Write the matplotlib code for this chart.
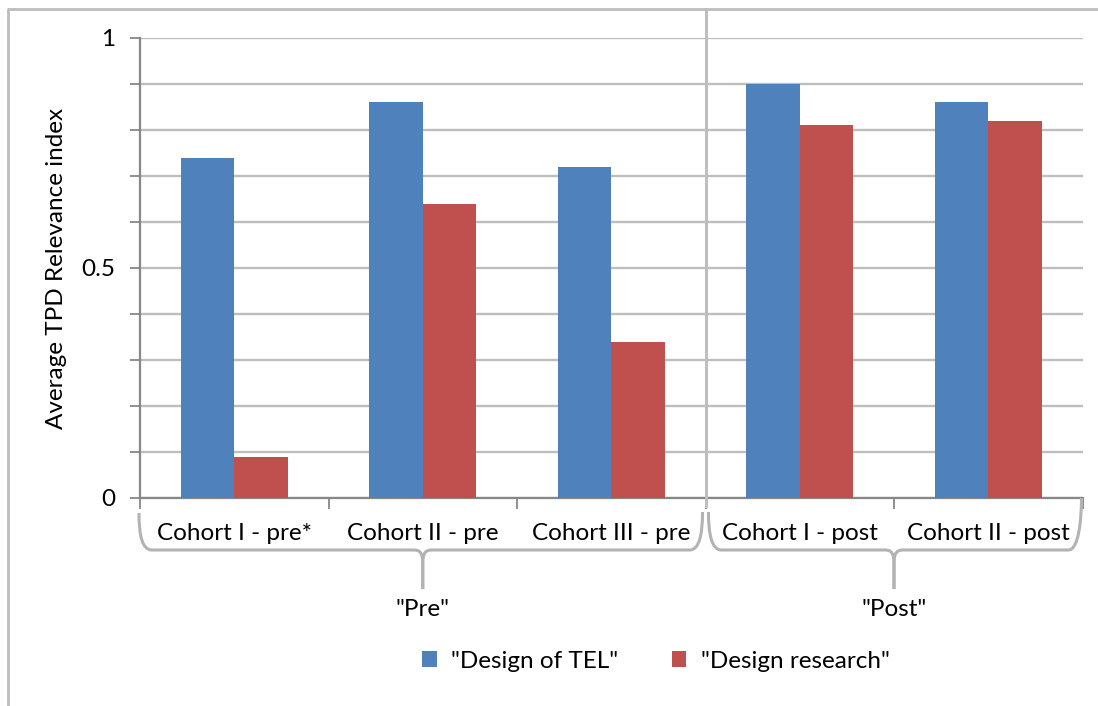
import numpy as np
import matplotlib
matplotlib.use("Agg")
import matplotlib.pyplot as plt
from matplotlib.path import Path
from matplotlib.patches import PathPatch
from matplotlib.lines import Line2D
import matplotlib.transforms as mtransforms
from matplotlib.ticker import FixedLocator, FuncFormatter

# ---- data -------------------------------------------------------------
categories = ["Cohort I - pre*", "Cohort II - pre", "Cohort III - pre",
              "Cohort I - post", "Cohort II - post"]
groups = ['"Pre"', '"Post"']
group_spans = [(0, 2), (3, 4)]          # first/last category index of each group
design_of_tel = [0.74, 0.86, 0.72, 0.90, 0.86]
design_research = [0.09, 0.64, 0.34, 0.81, 0.82]
series_names = ['"Design of TEL"', '"Design research"']
y_labels = {0.0: "0", 0.5: "0.5", 1.0: "1"}

# ---- style ------------------------------------------------------------
BLUE = "#4F81BD"
RED = "#C0504D"
GRID = "#BEBEBE"
AXIS = "#878787"
FONT = "Lato"
FS = 17.5

W, H = 1098, 706
DPI = 100
fig = plt.figure(figsize=(W / DPI, H / DPI), dpi=DPI)
fig.patch.set_facecolor("white")

def fy(py):
    """pixel row (from top) -> figure fraction"""
    return 1 - py / H

ax = fig.add_axes([140 / W, fy(498), (1082.5 - 140) / W, 460 / H])

x = np.arange(len(categories))
bw = 0.2835
b1 = ax.bar(x - bw / 2, design_of_tel, bw, color=BLUE, label=series_names[0], zorder=3)
b2 = ax.bar(x + bw / 2, design_research, bw, color=RED, label=series_names[1], zorder=3)

ax.set_xlim(-0.5, len(categories) - 0.5)
ax.set_ylim(0, 1)

# y axis: ticks every 0.1, labels only at 0, 0.5, 1
ax.yaxis.set_major_locator(FixedLocator(np.round(np.arange(0, 1.01, 0.1), 2)))
ax.yaxis.set_major_formatter(FuncFormatter(
    lambda v, p: y_labels.get(round(v, 2), "")))
ax.yaxis.grid(True, color=GRID, lw=1.7)
ax.set_axisbelow(True)
ax.tick_params(axis="y", length=7, width=1.3, color=AXIS, pad=11,
               labelsize=FS)
for t in ax.get_yticklabels():
    t.set_fontfamily(FONT)

# x axis: ticks at category boundaries, labels drawn separately
ax.xaxis.set_major_locator(FixedLocator(np.arange(-0.5, len(categories), 1.0)))
ax.set_xticklabels([])
ax.tick_params(axis="x", length=8, width=1.3, color=AXIS)

for s in ("top", "right"):
    ax.spines[s].set_visible(False)
for s in ("left", "bottom"):
    ax.spines[s].set_color(AXIS)
    ax.spines[s].set_linewidth(1.6)

ax.set_ylabel("Average TPD Relevance index", fontfamily=FONT, fontsize=FS)
ax.yaxis.set_label_coords(57 / W - 140 / W, 0.5,
                          transform=mtransforms.blended_transform_factory(
                              fig.transFigure, ax.transAxes))
ax.yaxis.label.set_position((57 / W, 0.5))
ax.yaxis.label.set_verticalalignment("center")

# category labels
tb = mtransforms.blended_transform_factory(ax.transData, fig.transFigure)
for xi, c in zip(x, categories):
    ax.text(xi, fy(533), c, transform=tb, ha="center", va="center",
            fontfamily=FONT, fontsize=FS, clip_on=False)

# group braces and labels
to_fig = fig.transFigure.inverted()

def px(xd):
    return ax.transData.transform((xd, 0))[0]

def half_brace(xe, xm, ytop, side):
    # side = +1 for left half (edge left of middle), -1 for right half
    yh = 550
    pts = [(xe, ytop),
           (xe, ytop + 22), (xe + side * 3, yh), (xe + side * 13, yh),
           (xm - side * 9, yh),
           (xm - side * 2, yh), (xm, yh + 4), (xm, yh + 14),
           (xm, 589)]
    codes = [Path.MOVETO,
             Path.CURVE4, Path.CURVE4, Path.CURVE4,
             Path.LINETO,
             Path.CURVE4, Path.CURVE4, Path.CURVE4,
             Path.LINETO]
    disp = np.array([(a, H - b) for a, b in pts])
    figpts = to_fig.transform(disp)
    fig.patches.append(PathPatch(Path(figpts, codes), transform=fig.transFigure,
                                 fill=False, edgecolor="#B3B3B3", lw=2.2,
                                 capstyle="butt", joinstyle="round"))

n = len(categories)
for (i0, i1), g in zip(group_spans, groups):
    x0 = px(i0 - 0.5)
    x1 = px(i1 + 0.5)
    xm = (x0 + x1) / 2
    top0 = 513 if i0 == 0 else 512
    top1 = 498 if i1 == n - 1 else 512
    # the inner edges lean toward the shared boundary
    e0 = x0 + (3 if i0 > 0 else -1)
    e1 = x1 - (3 if i1 < n - 1 else 1)
    half_brace(e0, xm, top0, +1)
    half_brace(e1, xm, top1, -1)
    fig.text(xm / W, fy(609), g, ha="center", va="center",
             fontfamily=FONT, fontsize=FS)

# separator between "Pre" and "Post" groups
xs = px(group_spans[0][1] + 0.5)
fig.add_artist(Line2D([xs / W, xs / W], [fy(9), fy(506)],
                      transform=fig.transFigure, color=GRID, lw=2.2))

# chart-area border (top and left edges)
fig.add_artist(Line2D([8 / W, 8 / W, 1.0], [0.0, fy(9), fy(9)],
                      transform=fig.transFigure, color="#BDBDBD", lw=2.0))

leg = fig.legend(handles=[b1, b2], loc="center",
                 bbox_to_anchor=(656 / W, fy(661)), ncol=2, frameon=False,
                 handlelength=0.6, handleheight=0.6, handletextpad=0.6,
                 columnspacing=2.2, prop={"family": FONT, "size": FS})

fig.savefig("out.png", dpi=DPI)
